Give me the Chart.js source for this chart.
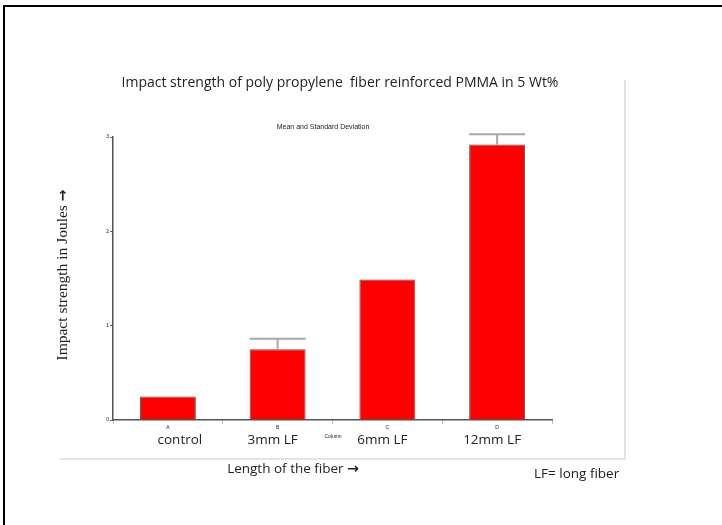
<!DOCTYPE html>
<html>
<head>
<meta charset="utf-8">
<script src="https://cdn.jsdelivr.net/npm/chart.js@4"></script>
<style>
  html, body { margin: 0; padding: 0; background: #fff; }
  #wrap { width: 722px; height: 525px; position: relative; }
</style>
</head>
<body>
<div id="wrap"><canvas id="grafik" width="722" height="525"></canvas></div>
<script>
// data
const columnCodes = ['A', 'B', 'C', 'D'];
const categories = ['control', '3mm LF', '6mm LF', '12mm LF'];
const meanValues = [0.25, 0.75, 1.49, 2.92];
const sdValues = [0, 0.11, 0, 0.11];
const yTicks = [0, 1, 2, 3];

const chartTitle = 'Impact strength of poly propylene  fiber reinforced PMMA in 5 Wt%';
const subTitle = 'Mean and Standard Deviation';
const yTitle = 'Impact strength in Joules';
const xTitle = 'Length of the fiber';
const noteText = 'LF= long fiber';
const ARROW = '\u2192';

const SANS = "'Open Sans', 'Liberation Sans', sans-serif";

// text followed by a heavier arrow glyph, centred on (cx, cy)
function teksPanah(ctx, text, font, cx, cy) {
  ctx.font = font;
  const wText = ctx.measureText(text + ' ').width;
  ctx.font = "bold 14px 'DejaVu Sans', sans-serif";
  const wArrow = ctx.measureText(ARROW).width;
  const start = cx - (wText + wArrow) / 2;
  ctx.textAlign = 'left';
  ctx.font = font;
  ctx.fillText(text, start, cy);
  ctx.font = "bold 14px 'DejaVu Sans', sans-serif";
  ctx.fillText(ARROW, start + wText, cy);
}

// everything that is not a bar: error bars, labels, frame
const hiasan = {
  id: 'hiasan',
  afterDatasetsDraw(chart) {
    const ctx = chart.ctx;
    const y = chart.scales.y;
    const meta = chart.getDatasetMeta(0);
    ctx.save();
    ctx.strokeStyle = '#a8a8a8';
    ctx.lineWidth = 2;
    meta.data.forEach((bar, i) => {
      if (!sdValues[i]) return;
      const yTop = y.getPixelForValue(meanValues[i] + sdValues[i]);
      const yBar = y.getPixelForValue(meanValues[i]);
      const half = bar.width / 2;
      ctx.beginPath();
      ctx.moveTo(bar.x, yBar);
      ctx.lineTo(bar.x, yTop);
      ctx.moveTo(bar.x - half, yTop);
      ctx.lineTo(bar.x + half, yTop);
      ctx.stroke();
    });
    ctx.restore();
  },
  afterDraw(chart) {
    const ctx = chart.ctx;
    const x = chart.scales.x, y = chart.scales.y;
    ctx.save();
    ctx.fillStyle = '#222';
    ctx.textBaseline = 'middle';

    // y tick labels (tiny)
    ctx.font = "5px 'Liberation Sans', sans-serif";
    ctx.textAlign = 'right';
    yTicks.forEach(v => ctx.fillText(String(v), x.left - 4, y.getPixelForValue(v)));

    // column codes and category names
    ctx.textAlign = 'center';
    columnCodes.forEach((c, i) => {
      ctx.font = "5px 'Liberation Sans', sans-serif";
      ctx.fillText(c, x.getPixelForValue(i), y.bottom + 8);
      ctx.font = '13.5px ' + SANS;
      const shift = i === 0 ? 12 : -5;
      ctx.fillText(categories[i], x.getPixelForValue(i) + shift, y.bottom + 20);
    });
    ctx.font = "5px 'Liberation Sans', sans-serif";
    ctx.fillText('Column', 333, y.bottom + 17);

    // titles
    ctx.font = '14px ' + SANS;
    ctx.fillText(chartTitle, 340, 83, 440);
    ctx.font = "7px 'Liberation Sans Narrow', 'Liberation Sans', sans-serif";
    ctx.fillText(subTitle, 323, 127, 100);

    teksPanah(ctx, xTitle, '13.5px ' + SANS, 293, 469);
    ctx.textAlign = 'left';
    ctx.font = '13.5px ' + SANS;
    ctx.fillText(noteText, 534, 474);

    // y title, rotated
    ctx.save();
    ctx.translate(63, 275);
    ctx.rotate(-Math.PI / 2);
    teksPanah(ctx, yTitle, "15.5px 'Liberation Serif', serif", 0, 0);
    ctx.restore();

    // light frame round the picture
    ctx.strokeStyle = '#e4e4e4';
    ctx.lineWidth = 2;
    ctx.beginPath();
    ctx.moveTo(625, 80);
    ctx.lineTo(625, 459);
    ctx.lineTo(60, 459);
    ctx.stroke();

    // black page border
    ctx.strokeStyle = '#000';
    ctx.lineWidth = 2;
    ctx.beginPath();
    ctx.moveTo(4, 525);
    ctx.lineTo(4, 6);
    ctx.lineTo(722, 6);
    ctx.stroke();
    ctx.restore();
  }
};

new Chart(document.getElementById('grafik'), {
  type: 'bar',
  data: {
    labels: columnCodes,
    datasets: [{
      data: meanValues,
      backgroundColor: '#ff0000',
      borderColor: '#555',
      borderWidth: 1,
      barPercentage: 0.51,
      categoryPercentage: 1
    }]
  },
  options: {
    responsive: false,
    animation: false,
    devicePixelRatio: 1,
    layout: { padding: { left: 110, right: 170, top: 137, bottom: 101 } },
    plugins: { legend: { display: false }, tooltip: { enabled: false } },
    scales: {
      x: {
        offset: true,
        ticks: { display: false },
        grid: { display: true, drawOnChartArea: false, tickLength: 4, color: '#bbb' },
        border: { display: true, color: '#555', width: 1.5 }
      },
      y: {
        min: 0,
        max: 3,
        ticks: { display: false, stepSize: 1 },
        grid: { display: true, drawOnChartArea: false, tickLength: 3, color: '#666' },
        border: { display: true, color: '#555', width: 1.5 }
      }
    }
  },
  plugins: [hiasan]
});
</script>
</body>
</html>
